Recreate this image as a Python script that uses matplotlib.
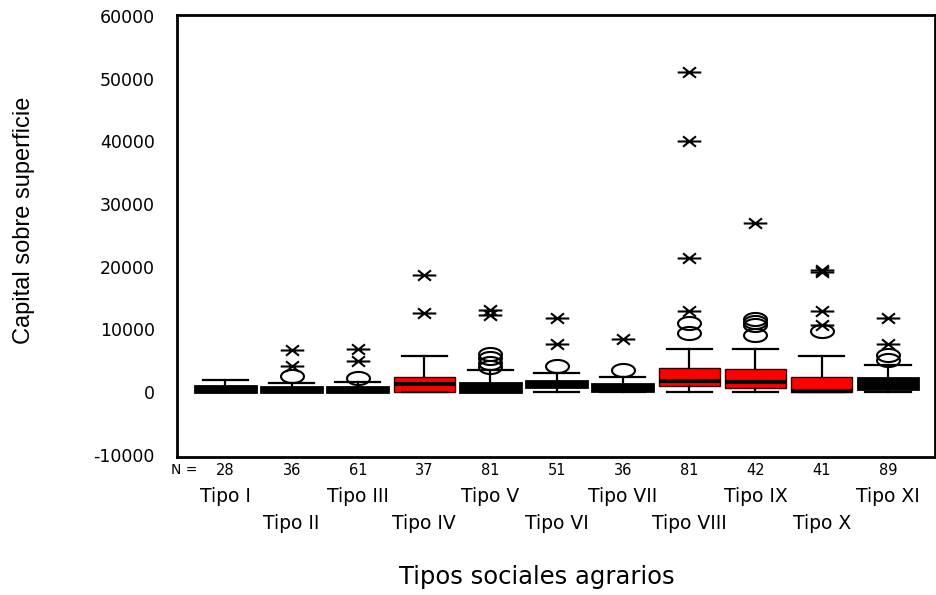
import matplotlib
matplotlib.use('Agg')
import matplotlib.pyplot as plt
import numpy as np
from matplotlib.path import Path
from matplotlib.transforms import blended_transform_factory

plt.rcParams['font.family'] = ['DejaVu Sans']

# Resumen por tipo social agrario (capital sobre superficie)
tipos = ['Tipo I', 'Tipo II', 'Tipo III', 'Tipo IV', 'Tipo V', 'Tipo VI',
         'Tipo VII', 'Tipo VIII', 'Tipo IX', 'Tipo X', 'Tipo XI']
n_casos = [28, 36, 61, 37, 81, 51, 36, 81, 42, 41, 89]
q1 = [0, 0, 0, 0, 0, 750, 100, 1000, 590, 0, 480]
mediana = [300, 300, 300, 1280, 500, 1200, 600, 1680, 1650, 150, 1200]
q3 = [900, 800, 800, 2450, 1490, 1810, 1280, 3790, 3680, 2450, 2240]
bigote_inf = [0, 0, 0, 0, 0, 0, 0, 0, 0, 0, 0]
bigote_sup = [1900, 1390, 1650, 5760, 3520, 2990, 2350, 6880, 6880, 5760, 4210]
atipicos = [[], [2560], [2150], [], [3950, 4590, 5390, 6000], [4050], [3520],
            [9390, 10990], [9100, 10600, 11200, 11700], [9650], [5120, 5920]]
extremos = [[], [4160, 6720], [4960, 6880], [12600, 18700], [12200, 13000],
            [7630, 11790], [8430], [12850, 21400, 40050, 51000], [26900],
            [10720, 12850, 19200, 19400], [7630, 11790]]

colores = ['black', 'black', 'black', 'red', 'black', 'black', 'black',
           'red', 'red', 'red', 'black']

# marcadores: elipse abierta y aspa con raya horizontal
t = np.linspace(0, 2 * np.pi, 60)
elipse = Path(np.column_stack([np.cos(t), 0.57 * np.sin(t)]), closed=True)
aspa = Path([(-0.55, -0.44), (0.55, 0.44), (-0.55, 0.44), (0.55, -0.44), (-1, 0), (1, 0)],
            [Path.MOVETO, Path.LINETO, Path.MOVETO, Path.LINETO, Path.MOVETO, Path.LINETO])

fig = plt.figure(figsize=(9.37, 5.95), dpi=100)
ax = fig.add_axes([0.1889, 0.2319, 0.8090, 0.7429])

pos = np.arange(1, len(tipos) + 1)
stats = []
for i in range(len(tipos)):
    stats.append(dict(med=mediana[i], q1=q1[i], q3=q3[i],
                      whislo=bigote_inf[i], whishi=bigote_sup[i], fliers=[]))

bp = ax.bxp(stats, positions=pos, widths=0.92, capwidths=0.68, patch_artist=True,
            showfliers=False,
            boxprops=dict(edgecolor='black', linewidth=1.0),
            medianprops=dict(color='black', linewidth=3.0),
            whiskerprops=dict(color='black', linewidth=1.6),
            capprops=dict(color='black', linewidth=1.6))
for caja, c in zip(bp['boxes'], colores):
    caja.set_facecolor(c)
    if c == 'black':
        caja.set_linewidth(2.0)
    else:
        caja.set_edgecolor('#3a0000')

for i, p in enumerate(pos):
    if atipicos[i]:
        ax.plot([p] * len(atipicos[i]), atipicos[i], linestyle='none', marker=elipse,
                markersize=16.5, markerfacecolor='none', markeredgecolor='black',
                markeredgewidth=1.5)
    if extremos[i]:
        ax.plot([p] * len(extremos[i]), extremos[i], linestyle='none', marker=aspa,
                markersize=17, markeredgecolor='black', markeredgewidth=1.5)

ax.set_xlim(0.27, 11.71)
ax.set_ylim(-10400, 60150)
ax.set_yticks(np.arange(-10000, 60001, 10000))
ax.set_yticklabels([str(v) for v in np.arange(-10000, 60001, 10000)], fontsize=12.5)
ax.tick_params(axis='y', length=0, pad=16)
ax.set_xticks([])
for s in ax.spines.values():
    s.set_linewidth(2)

# fila de N y etiquetas de categorias en dos filas
trans = blended_transform_factory(ax.transData, fig.transFigure)
fig.text(0.197, 0.210, 'N =', ha='center', va='center', fontsize=10)
for i, p in enumerate(pos):
    ax.text(p, 0.210, str(n_casos[i]), transform=trans, ha='center', va='center',
            fontsize=10.5)
    fila = 0.165 if i % 2 == 0 else 0.121
    ax.text(p, fila, tipos[i], transform=trans, ha='center', va='center', fontsize=13.5)

fig.text(0.573, 0.030, 'Tipos sociales agrarios', ha='center', va='center', fontsize=17.5)
fig.text(0.026, 0.630, 'Capital sobre superficie', rotation=90, ha='center', va='center',
         fontsize=17, family=['Liberation Sans', 'DejaVu Sans'])

fig.savefig('out.png', dpi=100, facecolor='white')
